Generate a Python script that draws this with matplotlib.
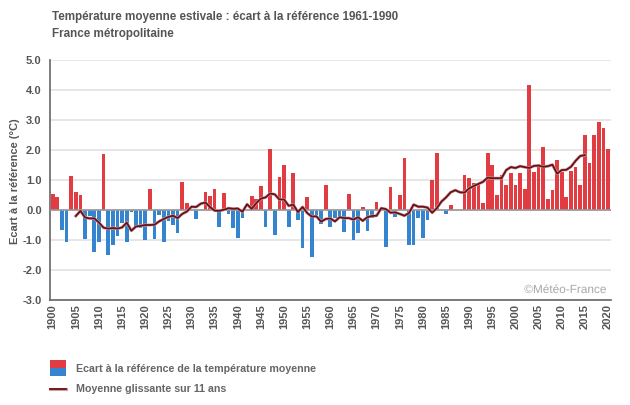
import numpy as np
import matplotlib
matplotlib.use('Agg')
import matplotlib.pyplot as plt
import matplotlib.patheffects as pe
from matplotlib.patches import Rectangle
from matplotlib.lines import Line2D

plt.rcParams['font.family'] = ['Liberation Sans', 'DejaVu Sans']

# Ecart annuel a la reference 1961-1990
years = np.arange(1900, 2021)
ecart = [
    0.54, 0.44, -0.65, -1.05, 1.14, 0.60, 0.50, -0.95, -0.20, -1.40,
    -1.08, 1.88, -1.50, -1.18, -0.85, -0.42, -1.05, -0.05, -0.55, -0.60,
    -1.00, 0.70, -0.95, -0.15, -1.08, -0.38, -0.50, -0.75, 0.95, 0.25,
    0.00, -0.30, 0.00, 0.60, 0.47, 0.70, -0.55, 0.58, -0.12, -0.60,
    -0.92, -0.28, 0.00, 0.48, 0.38, 0.81, -0.58, 2.04, -0.82, 1.11,
    1.51, -0.55, 1.24, -0.34, -1.28, 0.45, -1.58, -0.15, -0.45, 0.84,
    -0.55, -0.28, -0.22, -0.72, 0.55, -1.00, -0.78, 0.11, -0.70, -0.28,
    0.28, 0.00, -1.22, 0.78, -0.22, 0.51, 1.74, -1.18, -1.18, -0.28,
    -0.92, -0.32, 1.00, 1.90, 0.00, -0.13, 0.17, 0.00, 0.00, 1.17,
    1.07, 0.90, 0.83, 0.23, 1.90, 1.50, 0.50, 1.17, 0.83, 1.23,
    0.83, 1.23, 0.70, 4.17, 1.27, 1.53, 2.10, 0.37, 0.67, 1.67,
    1.27, 0.43, 1.30, 1.43, 0.83, 2.50, 1.57, 2.50, 2.93, 2.73,
    2.03,
]

# Moyenne glissante sur 11 ans
years_mg = np.arange(1905, 2016)
moy_gliss = [
    -0.20, -0.03, -0.25, -0.28, -0.28, -0.42, -0.59, -0.62, -0.60, -0.62,
    -0.58, -0.42, -0.69, -0.55, -0.53, -0.50, -0.50, -0.49, -0.38, -0.30,
    -0.23, -0.19, -0.27, -0.13, -0.05, 0.11, 0.10, 0.21, 0.25, 0.10,
    -0.02, -0.03, 0.01, 0.06, 0.04, 0.05, -0.06, 0.19, 0.04, 0.23,
    0.38, 0.42, 0.55, 0.52, 0.35, 0.35, 0.14, 0.18, -0.07, 0.10,
    -0.10, -0.22, -0.21, -0.39, -0.30, -0.28, -0.38, -0.24, -0.27, -0.27,
    -0.32, -0.24, -0.36, -0.24, -0.20, -0.19, 0.06, 0.03, -0.09, -0.08,
    -0.13, -0.19, -0.10, 0.18, 0.11, 0.11, 0.08, -0.09, 0.06, 0.28,
    0.42, 0.59, 0.66, 0.59, 0.58, 0.72, 0.80, 0.87, 0.94, 1.08,
    1.06, 1.06, 1.06, 1.33, 1.43, 1.40, 1.46, 1.43, 1.40, 1.47,
    1.48, 1.44, 1.46, 1.51, 1.21, 1.33, 1.34, 1.44, 1.64, 1.80,
    1.83,
]

xticks = np.arange(1900, 2021, 5)
yticks = np.arange(-3, 6)

ROUGE = '#e03c41'
BLEU = '#3484cf'
BORDEAUX = '#6b1016'
GRIS = '#555555'

W, H = 630, 405
fig = plt.figure(figsize=(W / 100, H / 100), dpi=100, facecolor='white')
ax = fig.add_axes([50 / W, 1 - 300 / H, 561 / W, 240 / H])

# Barres et moyenne glissante
ecart = np.array(ecart)
ax.bar(years, ecart, width=0.8, color=np.where(ecart >= 0, ROUGE, BLEU), zorder=2)
ax.axhline(0, color='#999999', lw=1.2, zorder=3)
ax.plot(years_mg, moy_gliss, color=BORDEAUX, lw=1.3, zorder=4,
        path_effects=[pe.Stroke(linewidth=2.2, foreground='#c9a0a3'), pe.Normal()])

ax.set_xlim(1899.42, 2020.65)
ax.set_ylim(-3, 5)
ax.set_xticks(xticks)
ax.set_yticks(yticks)
ax.set_yticklabels([f'{v:.1f}' for v in yticks])
ax.tick_params(axis='x', length=0, pad=3, labelrotation=90, labelsize=8, labelcolor=GRIS)
ax.tick_params(axis='y', length=0, pad=6, labelsize=8, labelcolor=GRIS)
for lab in ax.get_xticklabels() + ax.get_yticklabels():
    lab.set_fontweight('bold')

ax.grid(axis='y', color='#e2e2e2', lw=1.2, zorder=0)
ax.set_axisbelow(True)
ax.spines['top'].set_visible(False)
ax.spines['right'].set_visible(False)
ax.spines['left'].set_color('#666666')
ax.spines['bottom'].set_color('#666666')
ax.spines['left'].set_linewidth(1.2)
ax.spines['bottom'].set_linewidth(1.2)

# Titres
fig.text(52 / W, 1 - 17 / H, 'Température moyenne estivale : écart à la référence 1961-1990',
         fontsize=8.4, fontweight='bold', color=GRIS, va='center')
fig.text(52 / W, 1 - 34 / H, 'France métropolitaine',
         fontsize=8.4, fontweight='bold', color=GRIS, va='center')
fig.text(14.5 / W, 1 - 181 / H, 'Ecart à la référence (°C)', rotation=90,
         fontsize=8, fontweight='bold', color=GRIS, ha='center', va='center')

# Filigrane
ax.text(606 / W, 1 - 290 / H, '©Météo-France', transform=fig.transFigure,
        fontsize=8.5, color='#a8a8a8', ha='right', va='center', zorder=5,
        path_effects=[pe.withStroke(linewidth=2, foreground='white')])

# Legende
fig.add_artist(Rectangle((50 / W, 1 - 368 / H), 16 / W, 8 / H,
                         transform=fig.transFigure, color=ROUGE, lw=0))
fig.add_artist(Rectangle((50 / W, 1 - 376 / H), 16 / W, 8 / H,
                         transform=fig.transFigure, color=BLEU, lw=0))
fig.add_artist(Line2D([50 / W, 66 / W], [1 - 388.5 / H] * 2, transform=fig.transFigure,
                      color=BORDEAUX, lw=1.3,
                      path_effects=[pe.Stroke(linewidth=2.2, foreground='#c9a0a3'), pe.Normal()]))
fig.text(75.5 / W, 1 - 369 / H, 'Ecart à la référence de la température moyenne',
         fontsize=7.65, fontweight='bold', color='#666666', va='center')
fig.text(75.5 / W, 1 - 389 / H, 'Moyenne glissante sur 11 ans',
         fontsize=7.65, fontweight='bold', color='#666666', va='center')

fig.savefig('out.png', dpi=100)
